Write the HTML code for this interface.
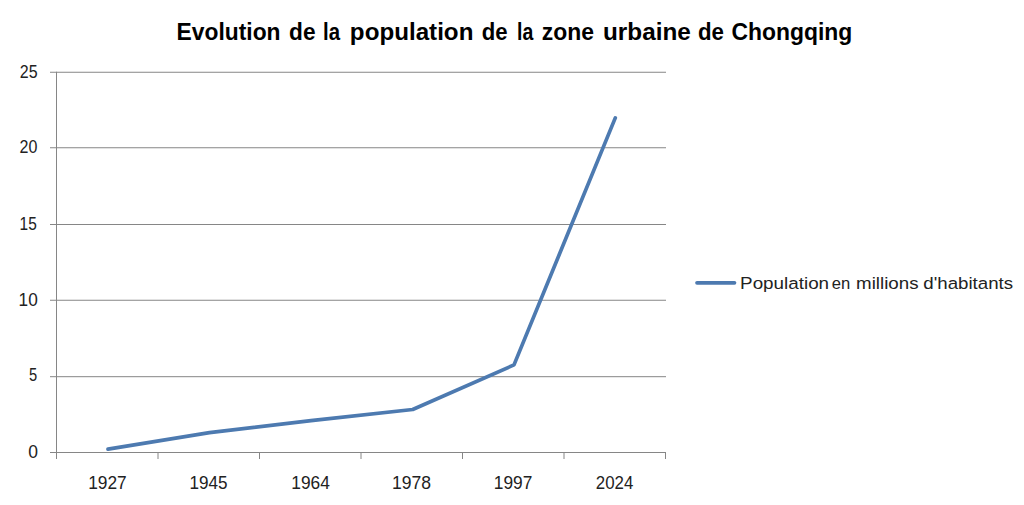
<!DOCTYPE html>
<html lang="fr">
<head>
<meta charset="utf-8">
<title>Evolution de la population de la zone urbaine de Chongqing</title>
<style>
html,body{margin:0;padding:0;background:#fff;}
body{width:1024px;height:505px;overflow:hidden;}
svg{display:block;}
text{font-family:"Liberation Sans",Arial,sans-serif;white-space:pre;}
</style>
</head>
<body>
<svg width="1024" height="505" viewBox="0 0 1024 505">
<rect x="0" y="0" width="1024" height="505" fill="#fff"/>
<g stroke="#868686" stroke-width="1">
<line x1="50" y1="72.25" x2="666" y2="72.25"/>
<line x1="50" y1="147.75" x2="666" y2="147.75"/>
<line x1="50" y1="224.5" x2="666" y2="224.5"/>
<line x1="50" y1="300.25" x2="666" y2="300.25"/>
<line x1="50" y1="376.7" x2="666" y2="376.7"/>
<line x1="50" y1="452.5" x2="666" y2="452.5"/>
<line x1="56.5" y1="71.75" x2="56.5" y2="459"/>
<line x1="158.0" y1="452.5" x2="158.0" y2="459"/>
<line x1="259.5" y1="452.5" x2="259.5" y2="459"/>
<line x1="361.0" y1="452.5" x2="361.0" y2="459"/>
<line x1="462.5" y1="452.5" x2="462.5" y2="459"/>
<line x1="564.0" y1="452.5" x2="564.0" y2="459"/>
<line x1="665.5" y1="452.5" x2="665.5" y2="459"/>
</g>
<text x="176.59" y="40" font-size="24" font-weight="bold" fill="#000" textLength="103.92" lengthAdjust="spacingAndGlyphs">Evolution</text>
<text x="289.09" y="40" font-size="24" font-weight="bold" fill="#000" textLength="26.42" lengthAdjust="spacingAndGlyphs">de</text>
<text x="323.00" y="40" font-size="24" font-weight="bold" fill="#000" textLength="17.00" lengthAdjust="spacingAndGlyphs">la</text>
<text x="349.88" y="40" font-size="24" font-weight="bold" fill="#000" textLength="123.52" lengthAdjust="spacingAndGlyphs">population</text>
<text x="481.70" y="40" font-size="24" font-weight="bold" fill="#000" textLength="25.83" lengthAdjust="spacingAndGlyphs">de</text>
<text x="517.00" y="40" font-size="24" font-weight="bold" fill="#000" textLength="16.25" lengthAdjust="spacingAndGlyphs">la</text>
<text x="541.78" y="40" font-size="24" font-weight="bold" fill="#000" textLength="52.22" lengthAdjust="spacingAndGlyphs">zone</text>
<text x="602.98" y="40" font-size="24" font-weight="bold" fill="#000" textLength="87.83" lengthAdjust="spacingAndGlyphs">urbaine</text>
<text x="698.00" y="40" font-size="24" font-weight="bold" fill="#000" textLength="26.00" lengthAdjust="spacingAndGlyphs">de</text>
<text x="731.49" y="40" font-size="24" font-weight="bold" fill="#000" textLength="120.81" lengthAdjust="spacingAndGlyphs">Chongqing</text>
<text x="19.77" y="77.8" font-size="18.2" fill="#222" textLength="17.78" lengthAdjust="spacingAndGlyphs">25</text>
<text x="19.47" y="153.2" font-size="18.2" fill="#222" textLength="17.85" lengthAdjust="spacingAndGlyphs">20</text>
<text x="19.61" y="229.9" font-size="18.2" fill="#222" textLength="17.14" lengthAdjust="spacingAndGlyphs">15</text>
<text x="18.58" y="305.6" font-size="18.2" fill="#222" textLength="19.14" lengthAdjust="spacingAndGlyphs">10</text>
<text x="29.00" y="381.2" font-size="18.2" fill="#222" textLength="8.18" lengthAdjust="spacingAndGlyphs">5</text>
<text x="28.13" y="458" font-size="18.2" fill="#222" textLength="9.74" lengthAdjust="spacingAndGlyphs">0</text>
<text x="88.17" y="489.1" font-size="18.2" fill="#222" textLength="38.53" lengthAdjust="spacingAndGlyphs">1927</text>
<text x="189.38" y="489.1" font-size="18.2" fill="#222" textLength="38.03" lengthAdjust="spacingAndGlyphs">1945</text>
<text x="291.37" y="489.1" font-size="18.2" fill="#222" textLength="38.53" lengthAdjust="spacingAndGlyphs">1964</text>
<text x="392.08" y="489.1" font-size="18.2" fill="#222" textLength="39.03" lengthAdjust="spacingAndGlyphs">1978</text>
<text x="493.76" y="489.1" font-size="18.2" fill="#222" textLength="38.53" lengthAdjust="spacingAndGlyphs">1997</text>
<text x="595.80" y="489.1" font-size="18.2" fill="#222" textLength="37.52" lengthAdjust="spacingAndGlyphs">2024</text>
<text x="740.08" y="288.9" font-size="16.9" fill="#222" textLength="89.02" lengthAdjust="spacingAndGlyphs">Population</text>
<text x="831.84" y="288.9" font-size="16.9" fill="#222" textLength="18.48" lengthAdjust="spacingAndGlyphs">en</text>
<text x="856.09" y="288.9" font-size="16.9" fill="#222" textLength="62.51" lengthAdjust="spacingAndGlyphs">millions</text>
<text x="923.30" y="288.9" font-size="16.9" fill="#222" textLength="89.81" lengthAdjust="spacingAndGlyphs">d'habitants</text>
<polyline fill="none" stroke="#4d7ab0" stroke-width="3.7" stroke-linecap="round" stroke-linejoin="round" points="108.0,449.2 209.5,432.7 311.0,420.6 412.7,409.5 514.0,364.9 615.3,117.9"/>
<line x1="697" y1="282.8" x2="734.5" y2="282.8" stroke="#4d7ab0" stroke-width="3.7" stroke-linecap="round"/>
</svg>
</body>
</html>
